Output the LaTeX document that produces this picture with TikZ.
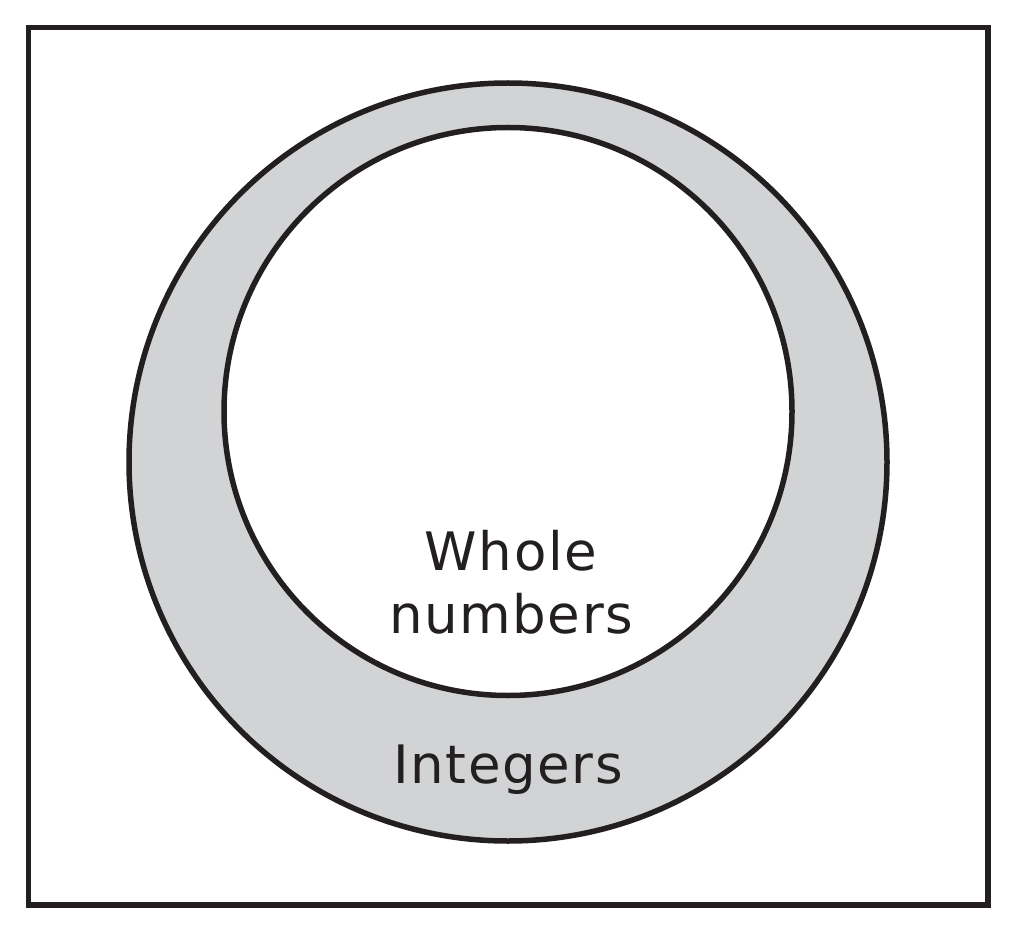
\documentclass[tikz,border=0pt]{standalone}
\usepackage{fontspec}
\setmainfont{DejaVu Sans}[LetterSpace=3]
\definecolor{ringgray}{HTML}{D1D3D4}
\definecolor{inkdark}{HTML}{231F20}
\begin{document}
\begin{tikzpicture}[x=1pt,y=-1pt,
  edge/.style={draw=inkdark,line width=5.5pt},
  lbl/.style={text=inkdark,font=\fontsize{53}{63}\selectfont,inner sep=0pt,align=center}]
\useasboundingbox (0,0) rectangle (1012,933);
\draw[edge] (28.5,27.5) rectangle (988,905);
\node[edge,fill=ringgray,circle,minimum size=758pt,inner sep=0pt] (integers) at (508,462) {};
\node[edge,fill=white,circle,minimum size=568pt,inner sep=0pt] (whole) at (508,411.5) {};
\node[lbl,anchor=base] (wholelbl) at (511,633) {Whole\\numbers};
\node[lbl,anchor=base] (intlbl) at (508,783) {Integers};
\end{tikzpicture}
\end{document}
